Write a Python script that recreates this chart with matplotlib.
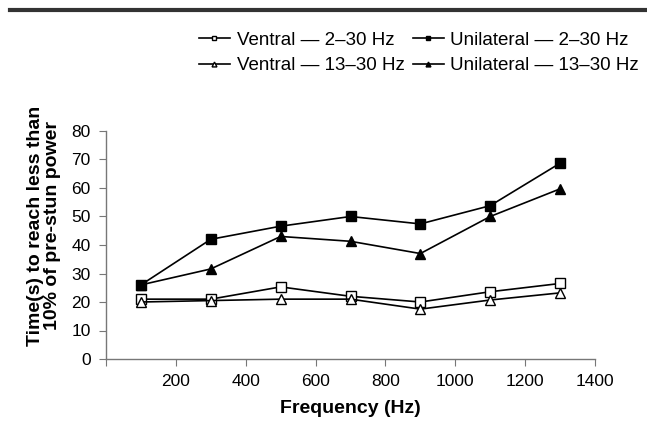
import matplotlib.pyplot as plt
import numpy as np

plt.rcParams['font.family'] = ['Liberation Sans', 'DejaVu Sans']

freq = [100, 300, 500, 700, 900, 1100, 1300]
ventral_2_30 = [21, 21, 25.3, 22, 20, 23.6, 26.5]
unilateral_2_30 = [26, 42, 46.6, 50, 47.4, 53.8, 68.7]
ventral_13_30 = [20, 20.5, 21, 21, 17.5, 20.7, 23.2]
unilateral_13_30 = [26, 31.6, 43, 41.3, 37, 50, 59.7]

fig = plt.figure(figsize=(6.47, 4.21), dpi=100)
ax = fig.add_axes([106/647, 1 - 359/421, (595-106)/647, (359-131)/421])

ms = 7
ax.plot(freq, ventral_2_30, color='black', lw=1.2, marker='s', ms=ms,
        mfc='white', mec='black', label='Ventral — 2–30 Hz')
ax.plot(freq, ventral_13_30, color='black', lw=1.2, marker='^', ms=ms,
        mfc='white', mec='black', label='Ventral — 13–30 Hz')
ax.plot(freq, unilateral_2_30, color='black', lw=1.2, marker='s', ms=ms,
        mfc='black', mec='black', label='Unilateral — 2–30 Hz')
ax.plot(freq, unilateral_13_30, color='black', lw=1.2, marker='^', ms=ms,
        mfc='black', mec='black', label='Unilateral — 13–30 Hz')

ax.set_xlim(0, 1400)
ax.set_ylim(0, 80)
ax.set_xticks(np.arange(0, 1401, 200))
ax.set_xticklabels([''] + [str(v) for v in range(200, 1401, 200)])
ax.set_yticks(np.arange(0, 81, 10))
for s in ['top', 'right']:
    ax.spines[s].set_visible(False)
for s in ['left', 'bottom']:
    ax.spines[s].set_color('#777777')
    ax.spines[s].set_linewidth(1)
ax.tick_params(direction='out', length=5, color='#777777', labelsize=12.5, pad=6)

ax.set_xlabel('Frequency (Hz)', fontsize=14, fontweight='bold', labelpad=8)
fig.text(44/647, 1 - 226/421, 'Time(s) to reach less than\n10% of pre-stun power',
         rotation=90, ha='center', va='center', fontsize=14, fontweight='bold',
         linespacing=0.95)

handles, labels = ax.get_legend_handles_labels()
fig.legend(handles, labels,
           loc='center', bbox_to_anchor=(419/647, 1 - 53/421), ncol=2,
           frameon=False, fontsize=13.5, handlelength=1.65, handletextpad=0.37,
           columnspacing=0.43, labelspacing=0.45, markerscale=0.5)

fig.add_artist(plt.Line2D([10/647, 1], [1 - 10/421, 1 - 10/421],
                          color='#333333', lw=3, transform=fig.transFigure))

fig.savefig('out.png', dpi=100)
